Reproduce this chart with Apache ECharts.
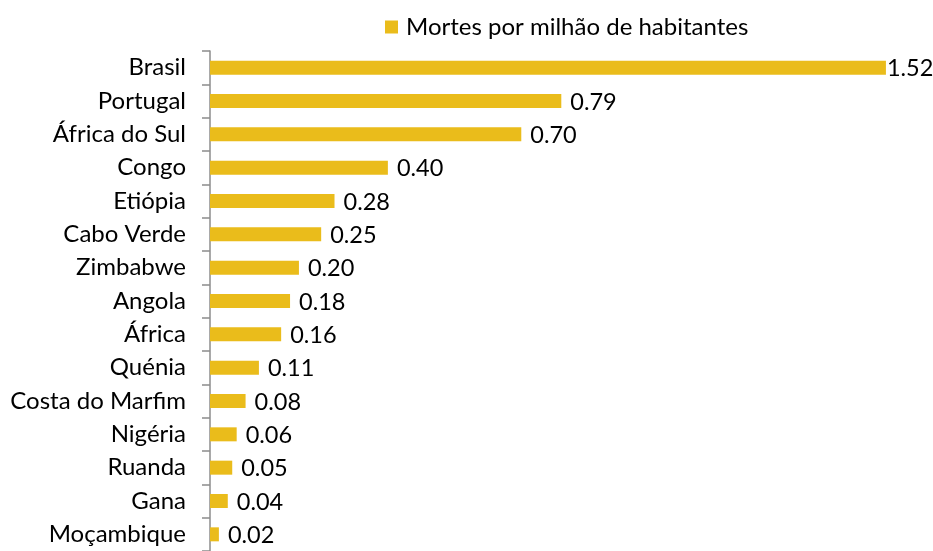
<!DOCTYPE html>
<html>
<head>
<meta charset="utf-8">
<script src="https://cdn.jsdelivr.net/npm/echarts@6/dist/echarts.min.js"></script>
<style>html,body{margin:0;padding:0;background:#fff;}#c{width:933px;height:551px;}</style>
</head>
<body>
<div id="c"></div>
<script>
const categories = ["Brasil","Portugal","África do Sul","Congo","Etiópia","Cabo Verde","Zimbabwe","Angola","África","Quénia","Costa do Marfim","Nigéria","Ruanda","Gana","Moçambique"];
const values = [1.52,0.79,0.70,0.40,0.28,0.25,0.20,0.18,0.16,0.11,0.08,0.06,0.05,0.04,0.02];
const seriesName = "Mortes por milhão de habitantes";

const FONT = "Lato";
const chart = echarts.init(document.getElementById('c'), null, {renderer:'canvas'});
chart.setOption({
  animation:false,
  textStyle:{fontFamily:FONT},
  legend:{
    data:[seriesName],
    left:380, top:10,
    itemWidth:13, itemHeight:13,
    textStyle:{fontFamily:FONT, fontSize:24, color:'#000', padding:[0,0,0,3]},
    icon:'rect'
  },
  grid:{left:210, top:51, height:504, width:711.5},
  xAxis:{type:'value', min:0, max:1.6, show:false},
  yAxis:{
    type:'category', data:categories, inverse:true,
    axisLine:{show:true, lineStyle:{color:'#8c8c8c', width:1.5}},
    axisTick:{show:true, length:8, lineStyle:{color:'#8c8c8c', width:1.5}},
    axisLabel:{margin:24, fontFamily:FONT, fontSize:24, color:'#000'},
    splitLine:{show:false}
  },
  series:[{
    name:seriesName, type:'bar',
    data: values.map((v,i)=> i===0 ? {value:v, label:{distance:1}} : v),
    barWidth:14,
    itemStyle:{color:'#EABC1B'},
    label:{show:true, position:'right', distance:9, fontFamily:FONT, fontSize:23.5, color:'#000',
      offset:[0,1],
      formatter:p=>p.value.toFixed(2)}
  }]
});
</script>
</body>
</html>
